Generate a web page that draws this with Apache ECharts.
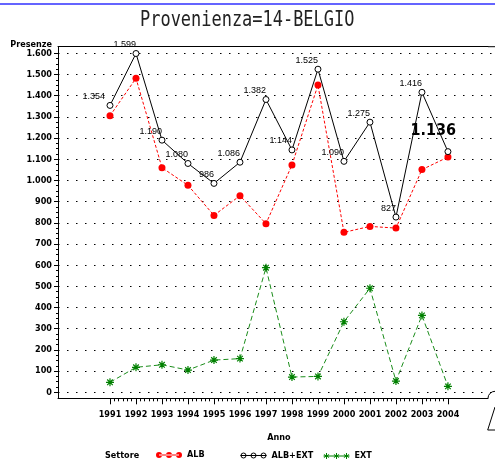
<!DOCTYPE html>
<html>
<head>
<meta charset="utf-8">
<script src="https://cdn.jsdelivr.net/npm/echarts@6/dist/echarts.min.js"></script>
<style>
  html, body { margin: 0; padding: 0; background: #fff; }
  #chart { width: 495px; height: 465px; }
</style>
</head>
<body>
<div id="chart"></div>
<script>
// data
const years = [1991, 1992, 1993, 1994, 1995, 1996, 1997, 1998, 1999, 2000, 2001, 2002, 2003, 2004];
const alb = [1305, 1482, 1060, 977, 835, 928, 796, 1073, 1450, 755, 783, 775, 1051, 1110];
const albExt = [1354, 1599, 1190, 1080, 986, 1086, 1382, 1144, 1525, 1090, 1275, 827, 1416, 1136];
const ext = [47, 118, 130, 105, 152, 159, 588, 72, 75, 333, 491, 53, 363, 28];

const narrow = '"DejaVu Sans Condensed", sans-serif';
const dots = (v) => String(v).replace(/\B(?=(\d{3})+(?!\d))/g, ".");

const asterisk = "path://M5,0L5,10M0,5L10,5M1.5,1.5L8.5,8.5M1.5,8.5L8.5,1.5";
const iconFilled =
  "path://M3,2.6L23,2.6L23,3.4L3,3.4Z" +
  "M0,3a3,3 0 1,0 6,0a3,3 0 1,0 -6,0Z" +
  "M10,3a3,3 0 1,0 6,0a3,3 0 1,0 -6,0Z" +
  "M20,3a3,3 0 1,0 6,0a3,3 0 1,0 -6,0Z";
const iconHollow =
  "path://M0,3L26,3" +
  "M0.5,3a2.5,2.5 0 1,0 5,0a2.5,2.5 0 1,0 -5,0Z" +
  "M10.5,3a2.5,2.5 0 1,0 5,0a2.5,2.5 0 1,0 -5,0Z" +
  "M20.5,3a2.5,2.5 0 1,0 5,0a2.5,2.5 0 1,0 -5,0Z";
const iconStars =
  "path://M0,3L26,3" +
  "M3,0L3,6M0.4,1.5L5.6,4.5M0.4,4.5L5.6,1.5" +
  "M13,0L13,6M10.4,1.5L15.6,4.5M10.4,4.5L15.6,1.5" +
  "M23,0L23,6M20.4,1.5L25.6,4.5M20.4,4.5L25.6,1.5";

const axisFont = { fontFamily: narrow, fontSize: 9, fontWeight: "bold", color: "#000" };

const albExtData = albExt.map((v, i) => {
  const item = { value: [years[i], v] };
  if (i === 0) item.label = { offset: [-5, 0] };
  if (i === albExt.length - 1) {
    item.label = { fontFamily: narrow, fontSize: 16, fontWeight: "bold", color: "#000", offset: [8, -8] };
  }
  return item;
});

const chart = echarts.init(document.getElementById("chart"));

const frameAxis = {
  gridIndex: 0,
  type: "value",
  min: 0,
  max: 1,
  axisLine: { show: true, lineStyle: { color: "#000", width: 1 } },
  axisTick: { show: false },
  axisLabel: { show: false },
  splitLine: { show: false },
};

const legendBase = { top: 445.5, itemWidth: 26, itemHeight: 6, textStyle: axisFont };

chart.setOption({
  animation: false,
  grid: [
    { left: 58, top: 46.7, right: 7, bottom: 66.7 }, // frame
    { left: 58, top: 53.3, right: 0, bottom: 72.7 }, // data
    { left: 110, top: 46.7, right: 47, bottom: 66.7 }, // year ticks
  ],
  xAxis: [
    { ...frameAxis, position: "bottom" },
    { ...frameAxis, position: "top" },
    { gridIndex: 1, type: "value", min: 1989, max: 2005.81, show: false },
    {
      gridIndex: 2,
      type: "value",
      min: 1991,
      max: 2004,
      interval: 1,
      axisLine: { show: false },
      axisTick: { show: true, length: 6, lineStyle: { color: "#000" } },
      minorTick: { show: true, splitNumber: 6, length: 3, lineStyle: { color: "#000" } },
      axisLabel: { ...axisFont, margin: 12, formatter: (v) => String(v) },
      splitLine: { show: false },
      name: "Anno",
      nameLocation: "middle",
      nameGap: 35,
      nameTextStyle: axisFont,
    },
  ],
  yAxis: [
    { ...frameAxis, xAxisIndex: 0 },
    {
      gridIndex: 1,
      type: "value",
      min: 0,
      max: 1600,
      interval: 100,
      axisLine: { show: false },
      axisTick: { show: true, length: 4, lineStyle: { color: "#000" } },
      minorTick: { show: true, splitNumber: 4, length: 2, lineStyle: { color: "#000" } },
      axisLabel: { ...axisFont, margin: 6, formatter: dots },
      splitLine: { show: true, lineStyle: { color: "#000", width: 1, type: [1.5, 7.5] } },
      name: "Presenze",
      nameLocation: "end",
      nameGap: 4,
      nameTextStyle: { ...axisFont, align: "right", padding: [0, 6, 0, 0] },
    },
    { gridIndex: 2, type: "value", show: false },
  ],
  legend: [
    {
      ...legendBase,
      left: 151,
      data: [{ name: "ALB", icon: iconFilled, itemStyle: { color: "#ff0000", borderWidth: 0 } }],
    },
    {
      ...legendBase,
      left: 233,
      data: [{ name: "ALB+EXT", icon: iconHollow, itemStyle: { color: "none", borderColor: "#000", borderWidth: 1 } }],
    },
    {
      ...legendBase,
      left: 316,
      data: [{ name: "EXT", icon: iconStars, itemStyle: { color: "none", borderColor: "#008000", borderWidth: 1 } }],
    },
  ],
  series: [
    {
      name: "ALB",
      type: "line",
      xAxisIndex: 2,
      yAxisIndex: 1,
      clip: false,
      data: years.map((y, i) => [y, alb[i]]),
      symbol: "circle",
      symbolSize: 7,
      itemStyle: { color: "#ff0000" },
      lineStyle: { color: "#ff0000", width: 1, type: [3, 2] },
    },
    {
      name: "ALB+EXT",
      type: "line",
      xAxisIndex: 2,
      yAxisIndex: 1,
      clip: false,
      data: albExtData,
      symbol: "circle",
      symbolSize: 6,
      itemStyle: { color: "#fff", borderColor: "#000", borderWidth: 1 },
      lineStyle: { color: "#000", width: 1 },
      label: {
        show: true,
        position: "top",
        distance: 1,
        align: "right",
        fontFamily: '"Liberation Sans", sans-serif',
        fontSize: 9,
        color: "#000",
        formatter: (p) => dots(p.value[1]),
      },
    },
    {
      name: "EXT",
      type: "line",
      xAxisIndex: 2,
      yAxisIndex: 1,
      clip: false,
      data: years.map((y, i) => [y, ext[i]]),
      symbol: asterisk,
      symbolSize: 8,
      itemStyle: { color: "none", borderColor: "#008000", borderWidth: 1.2 },
      lineStyle: { color: "#1a8c1a", width: 1, type: [5, 3] },
    },
  ],
  graphic: [
    { type: "line", shape: { x1: 0, y1: 4, x2: 495, y2: 4 }, style: { stroke: "#3030ff", lineWidth: 1.5 } },
    { type: "line", shape: { x1: 488, y1: 46.7, x2: 495, y2: 46.7 }, style: { stroke: "#000", lineWidth: 1 } },
    {
      type: "text",
      x: 140,
      y: 10,
      scaleX: 1.06,
      scaleY: 1.35,
      style: { text: "Provenienza=14-BELGIO", fontFamily: "DejaVu Sans Mono", fontSize: 16, fill: "#222", verticalAlign: "top" },
    },
    {
      type: "text",
      x: 105,
      y: 456,
      style: { text: "Settore", fontFamily: narrow, fontSize: 9, fontWeight: "bold", fill: "#000", verticalAlign: "middle" },
    },
    {
      type: "arc",
      shape: { cx: 495, cy: 398.3, r: 7, startAngle: Math.PI, endAngle: Math.PI * 1.5 },
      style: { stroke: "#000", lineWidth: 1, fill: "none" },
    },
    {
      type: "polyline",
      shape: { points: [[495, 407], [487.7, 430], [495, 430]] },
      style: { stroke: "#000", lineWidth: 1, fill: "none" },
    },
  ],
});
</script>
</body>
</html>
